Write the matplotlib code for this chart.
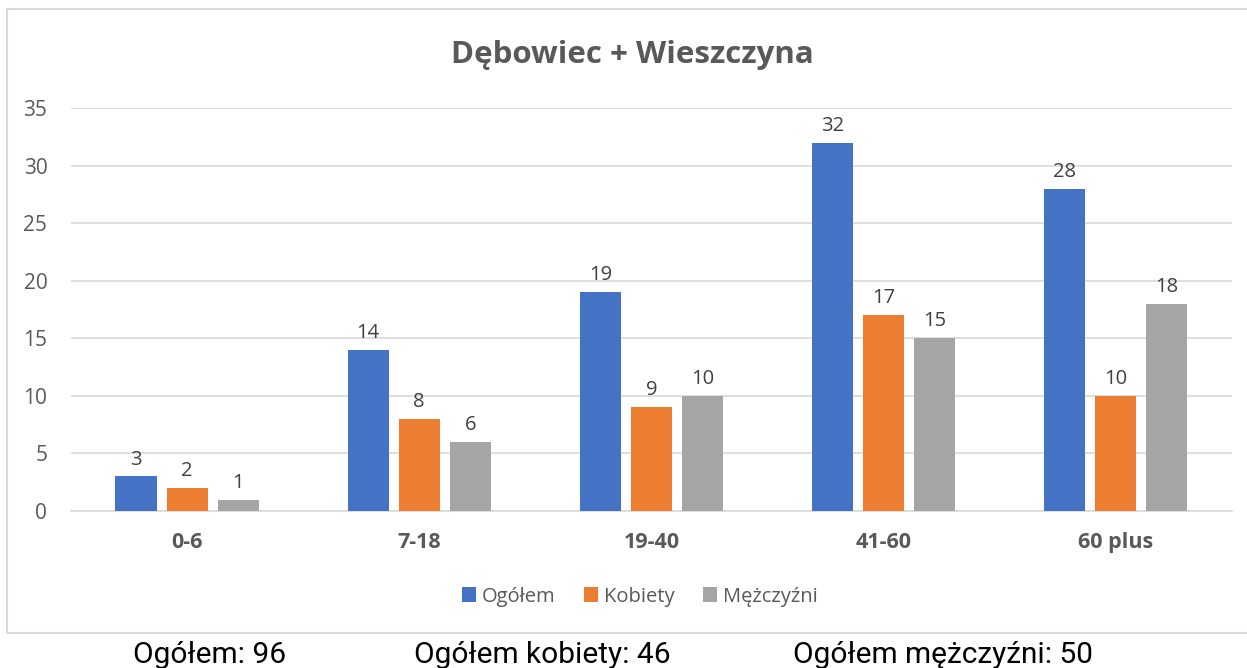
import numpy as np
import matplotlib
matplotlib.use('Agg')
import matplotlib.pyplot as plt
from matplotlib.patches import Rectangle

# dane z wykresu
kategorie = ['0-6', '7-18', '19-40', '41-60', '60 plus']
ogolem = [3, 14, 19, 32, 28]
kobiety = [2, 8, 9, 17, 10]
mezczyzni = [1, 6, 10, 15, 18]
serie = ['Ogółem', 'Kobiety', 'Mężczyźni']
kolory = ['#4472C4', '#ED7D31', '#A5A5A5']
podsumowanie = ['Ogółem: 96', 'Ogółem kobiety: 46', 'Ogółem mężczyźni: 50']

plt.rcParams['font.family'] = ['Open Sans', 'DejaVu Sans']

fig = plt.figure(figsize=(12.47, 6.68), dpi=100)

# ramka wykresu
fig.patches.append(Rectangle((0.0056, 0.0524), 1.0, 0.934, transform=fig.transFigure,
                             fill=False, edgecolor='#d9d9d9', linewidth=1.5))

ax = fig.add_axes([0.0569, 0.235, 0.931, 0.603])
x = np.arange(len(kategorie))
w = 0.177
off = 0.22
for i, (vals, kol, nazwa) in enumerate(zip([ogolem, kobiety, mezczyzni], kolory, serie)):
    bars = ax.bar(x + (i - 1) * off, vals, width=w, color=kol, label=nazwa, zorder=3)
    ax.bar_label(bars, padding=5, fontsize=14.5, color='#404040')

ax.set_xlim(-0.5, len(kategorie) - 0.5)
ax.set_ylim(0, 35)
ax.set_yticks(range(0, 36, 5))
ax.grid(axis='y', color='#d9d9d9', linewidth=1.2, zorder=0)
for s in ['top', 'right', 'left']:
    ax.spines[s].set_visible(False)
ax.spines['bottom'].set_color('#d9d9d9')
ax.spines['bottom'].set_linewidth(1.2)
ax.tick_params(axis='y', length=0, labelsize=15, labelcolor='#595959', pad=17)
ax.tick_params(axis='x', length=0, labelsize=15.5, labelcolor='#595959', pad=15)
ax.set_xticks(x)
ax.set_xticklabels(kategorie, fontweight='bold')

fig.text(0.507, 0.918, 'Dębowiec + Wieszczyna', ha='center', va='center',
         fontsize=22.5, fontweight='bold', color='#595959')

fig.legend(loc='center', bbox_to_anchor=(0.513, 0.107), ncol=3, frameon=False,
           fontsize=14.5, labelcolor='#595959', handlelength=0.7, handleheight=0.7,
           handletextpad=0.3, columnspacing=1.4)

for tekst, xp in zip(podsumowanie, [0.168, 0.435, 0.756]):
    fig.text(xp, 0.007, tekst, ha='center', va='baseline', fontsize=21.5,
             family=['Roboto', 'DejaVu Sans'], color='black')

plt.savefig('out.png', dpi=100)
